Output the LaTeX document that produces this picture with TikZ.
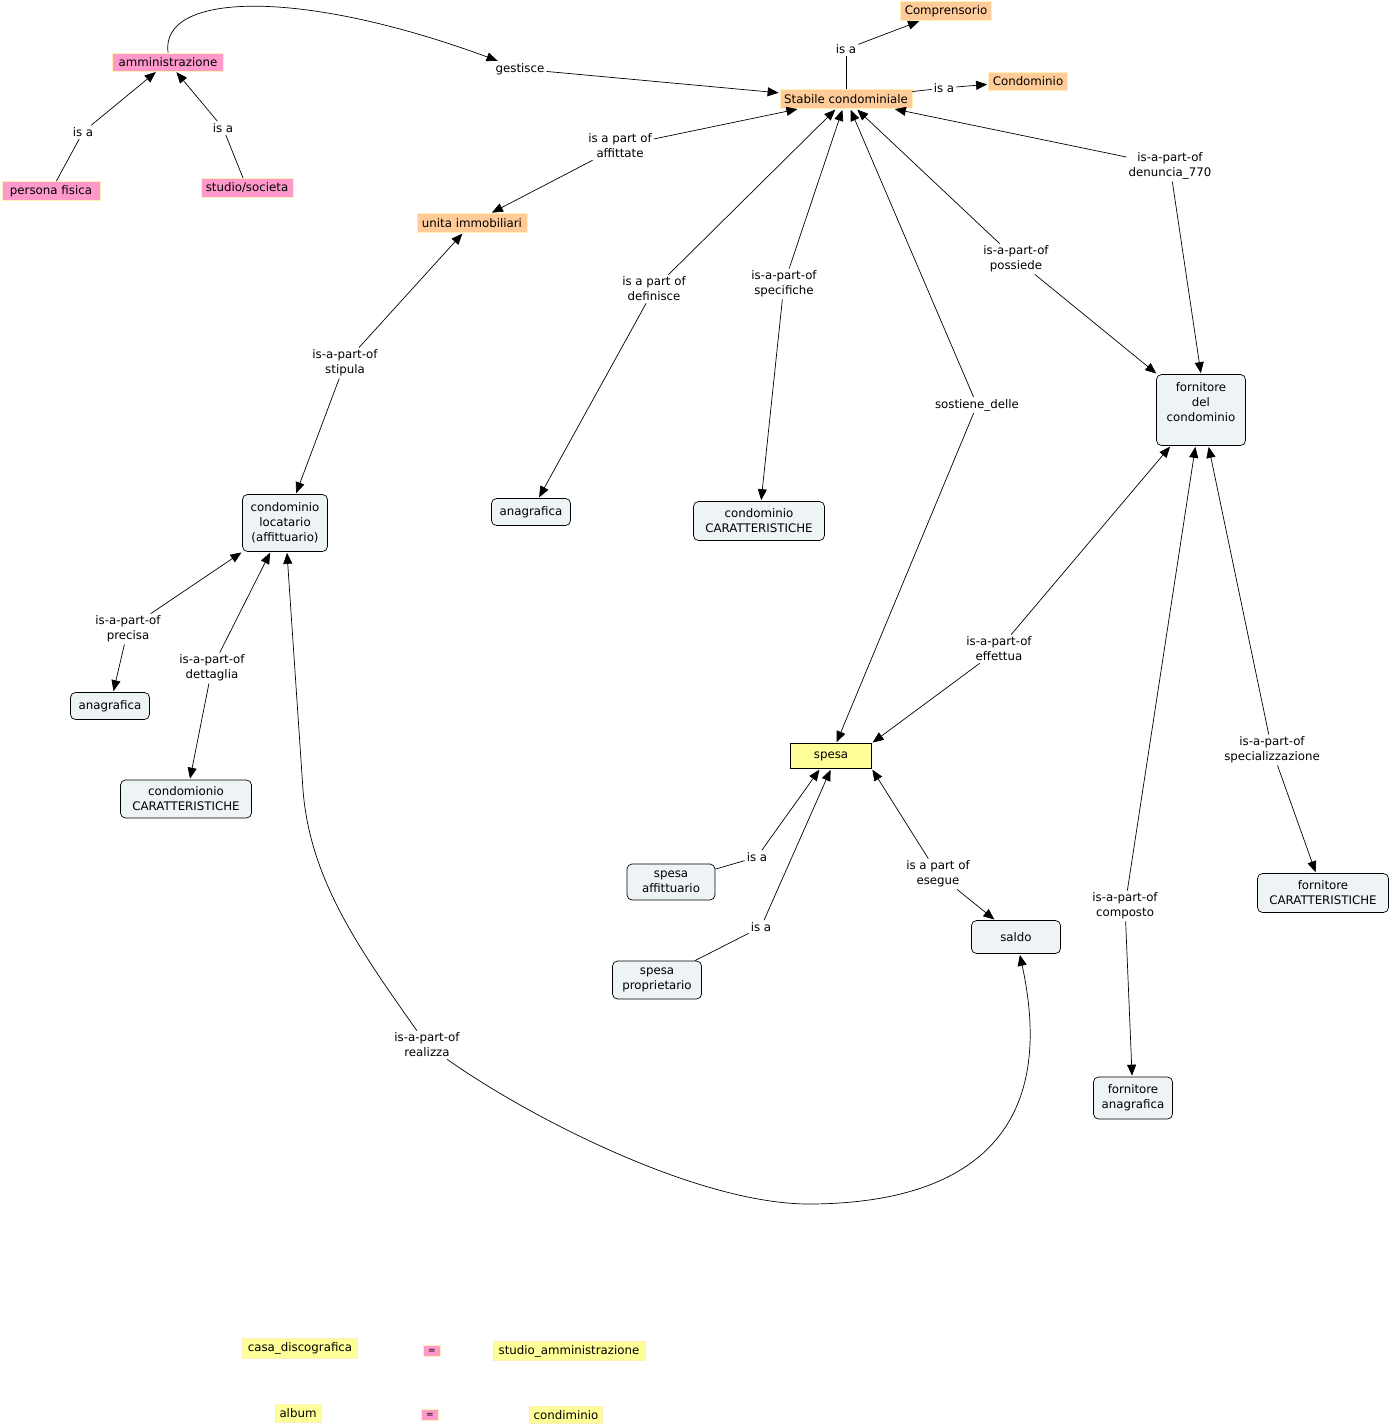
\documentclass[tikz,border=0pt]{standalone}
\usepackage{fontspec}
\setmainfont{DejaVu Sans}
\usetikzlibrary{arrows.meta}
\definecolor{cpink}{HTML}{FF99CC}
\definecolor{corange}{HTML}{FFCC99}
\definecolor{cyellow}{HTML}{FFFF99}
\definecolor{clight}{HTML}{EEF3F6}
\definecolor{cborder}{HTML}{FFF0B8}
\begin{document}
\begin{tikzpicture}[x=1pt,y=-1pt,
  every node/.style={font=\fontsize{11.8}{15}\selectfont, text=black},
  colbox/.style={rectangle, draw=cborder, line width=0.8pt, inner sep=1pt},
  pinkbox/.style={colbox, fill=cpink},
  orbox/.style={colbox, fill=corange},
  yelbox/.style={colbox, fill=cyellow},
  cbox/.style={rectangle, rounded corners=5pt, draw=black, fill=clight, line width=0.7pt, align=center, inner sep=2pt},
  lp/.style={align=center, inner sep=2pt},
  ln/.style={draw=black, line width=0.7pt},
  arr/.style={ln, -{Triangle[length=11pt,width=9pt]}, shorten >=1pt},
]
\useasboundingbox (0,0) rectangle (1391,1425);

% concepts
\node[pinkbox, minimum width=111, minimum height=18] (amm) at (168,62) {amministrazione};
\node[pinkbox, minimum width=98, minimum height=19] (pf) at (51,191) {persona fisica};
\node[pinkbox, minimum width=92, minimum height=19] (ss) at (247,188) {studio/societa};
\node[orbox, minimum width=91, minimum height=19] (compr) at (946,11) {Comprensorio};
\node[orbox, minimum width=79, minimum height=18] (condo) at (1028,81) {Condominio};
\node[orbox, minimum width=132, minimum height=19] (stab) at (846,99) {Stabile condominiale};
\node[orbox, minimum width=110, minimum height=19] (unita) at (472,223) {unita immobiliari};
\node[cbox, minimum width=85, minimum height=57] (loc) at (285,523) {condominio\\locatario\\(affittuario)};
\node[cbox, minimum width=79, minimum height=27] (anag1) at (531,512) {anagrafica};
\node[cbox, minimum width=131, minimum height=39] (ccar) at (759,521) {condominio\\CARATTERISTICHE};
\node[cbox, minimum width=89, minimum height=71] (forn) at (1201,410) {};
\node[align=center, inner sep=0pt] (fornt) at (1201,402) {fornitore\\del\\condominio};
\node[rectangle, draw=black, fill=cyellow, line width=0.7pt, minimum width=81, minimum height=25, inner sep=1pt] (spesa) at (831,756) {spesa};
\node[cbox, minimum width=88, minimum height=36] (spaff) at (671,882) {spesa\\affittuario};
\node[cbox, minimum width=89, minimum height=38] (spprop) at (657,980) {spesa\\proprietario};
\node[cbox, minimum width=89, minimum height=33] (saldo) at (1016,937) {saldo};
\node[cbox, minimum width=79, minimum height=27] (anag2) at (110,706) {anagrafica};
\node[cbox, minimum width=131, minimum height=38] (ccar2) at (186,799) {condomionio\\CARATTERISTICHE};
\node[cbox, minimum width=131, minimum height=39] (fcar) at (1323,893) {fornitore\\CARATTERISTICHE};
\node[cbox, minimum width=79, minimum height=42] (fanag) at (1133,1098) {fornitore\\anagrafica};

% legend
\node[yelbox, minimum width=115, minimum height=20] (casa) at (300,1348) {casa\_discografica};
\node[pinkbox, minimum width=17, minimum height=11, inner sep=0pt, font=\fontsize{9}{9}\selectfont] (eq1) at (432,1351) {=};
\node[yelbox, minimum width=152, minimum height=19] (studam) at (569,1351) {studio\_amministrazione};
\node[yelbox, minimum width=46, minimum height=18] (album) at (298,1413) {album};
\node[pinkbox, minimum width=17, minimum height=11, inner sep=0pt, font=\fontsize{9}{9}\selectfont] (eq2) at (430,1415) {=};
\node[yelbox, minimum width=73, minimum height=17] (condim) at (566,1415) {condiminio};

% linking phrases
\node[lp] (l1) at (83,132) {is a};
\node[lp] (l2) at (223,128) {is a};
\node[lp] (gest) at (520,69) {gestisce};
\node[lp] (l3) at (846,49) {is a};
\node[lp] (l4) at (944,88) {is a};
\node[lp] (laff) at (620,146) {is a part of\\affittate};
\node[lp] (lden) at (1170,166) {is-a-part-of\\denuncia\_770};
\node[lp] (ldef) at (654,289) {is a part of\\definisce};
\node[lp] (lspec) at (784,284) {is-a-part-of\\specifiche};
\node[lp] (lposs) at (1016,259) {is-a-part-of\\possiede};
\node[lp] (lsost) at (977,405) {sostiene\_delle};
\node[lp] (lstip) at (345,363) {is-a-part-of\\stipula};
\node[lp] (lprec) at (128,629) {is-a-part-of\\precisa};
\node[lp] (ldett) at (212,668) {is-a-part-of\\dettaglia};
\node[lp] (leff) at (999,649) {is-a-part-of\\effettua};
\node[lp] (lspz) at (1272,750) {is-a-part-of\\specializzazione};
\node[lp] (l5) at (757,857) {is a};
\node[lp] (l6) at (761,927) {is a};
\node[lp] (lese) at (938,874) {is a part of\\esegue};
\node[lp] (lcomp) at (1125,906) {is-a-part-of\\composto};
\node[lp] (lreal) at (427,1045) {is-a-part-of\\realizza};

% connectors
\draw[ln] (pf) -- (l1); \draw[arr] (l1) -- (amm);
\draw[ln] (ss) -- (l2); \draw[arr] (l2) -- (amm);
\draw[arr] (amm.north) .. controls (160,-8) and (300,-12) .. (gest);
\draw[arr] (gest) -- (stab);
\draw[ln] (stab) -- (l3); \draw[arr] (l3) -- (compr);
\draw[ln] (stab) -- (l4); \draw[arr] (l4) -- (condo);
\draw[arr] (laff) -- (stab); \draw[arr] (laff) -- (unita);
\draw[arr] (ldef) -- (stab); \draw[arr] (ldef) -- (anag1);
\draw[arr] (lspec) -- (stab); \draw[arr] (lspec) -- (ccar);
\draw[arr] (lsost) -- (stab); \draw[arr] (lsost) -- (spesa);
\draw[arr] (lposs) -- (stab); \draw[arr] (lposs) -- (forn);
\draw[arr] (lden) -- (stab); \draw[arr] (lden) -- (forn.north);
\draw[arr] (lstip) -- (unita); \draw[arr] (lstip) -- (loc);
\draw[arr] (lprec) -- (loc); \draw[arr] (lprec) -- (anag2);
\draw[arr] (ldett) -- (loc); \draw[arr] (ldett) -- (ccar2);
\draw[arr] (leff) -- (forn); \draw[arr] (leff) -- (spesa.north east);
\draw[arr] (lcomp) -- (forn); \draw[arr] (lcomp) -- (fanag);
\draw[arr] (lspz) -- (forn); \draw[arr] (lspz) -- (fcar);
\draw[ln] (spaff) -- (l5); \draw[arr] (l5) -- ([xshift=-11pt]spesa.south);
\draw[ln] (spprop) -- (l6); \draw[arr] (l6) -- (spesa.south);
\draw[arr] (lese) -- (spesa.south east); \draw[arr] (lese) -- (saldo);
\draw[arr] (lreal) .. controls (360,950) and (310,880) .. (303,790) -- (loc);
\draw[arr] (lreal) .. controls (530,1118) and (700,1205) .. (811,1204) .. controls (960,1203) and (1060,1140) .. (saldo);
\end{tikzpicture}
\end{document}
